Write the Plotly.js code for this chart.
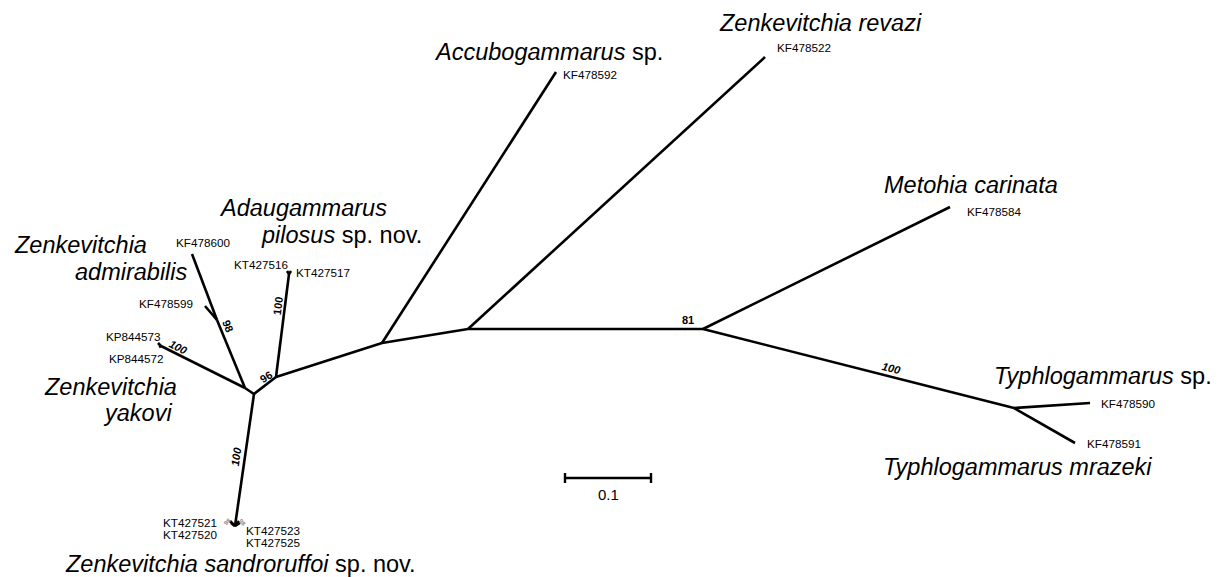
<!DOCTYPE html>
<html>
<head>
<meta charset="utf-8">
<script src="https://cdn.plot.ly/plotly-3.0.1.min.js"></script>
<style>html,body{margin:0;padding:0;background:#fff;}#chart{width:1223px;height:577px;}</style>
</head>
<body>
<div id="chart"></div>
<script>
// ---- Tree nodes (drawing units; 86 units = 0.1 substitutions/site) ----
const nodeNames = ['root','zk','adm','ada','acc','rev','met','typ','san','kp','kt',
  'KF478600','KF478599','KP844573','KP844572','KT427516','KT427517',
  'KT427521','KT427520','KT427523','KT427525',
  'KF478592','KF478522','KF478584','KF478590','KF478591'];
const nodeX = [254,245,217,276,382,468,703,1014,235,161,289,
  192,205,158,159,287,291,
  230,231,239,240,
  556,765,950,1090,1075];
const nodeY = [394,388,320,377,343,329,329,408,526,346,274,
  254,306,343,347,271,271,
  521,523,521,523,
  72,57,207,403,443];

// ---- Branches ----
const edgeFrom = ['root','zk','adm','adm','zk','kp','kp','root','ada','kt','kt',
  'root','san','san','san','san','ada','acc','acc','rev','rev','met','met','typ','typ'];
const edgeTo = ['zk','adm','KF478600','KF478599','kp','KP844573','KP844572','ada','kt','KT427516','KT427517',
  'san','KT427521','KT427520','KT427523','KT427525','acc','KF478592','rev','KF478522','met','KF478584','typ','KF478590','KF478591'];

// ---- Tip / taxon labels ----
const accText = ['KF478600','KF478599','KP844573','KP844572','KT427516','KT427517',
  'KT427521','KT427520','KT427523','KT427525','KF478592','KF478522','KF478584','KF478590','KF478591'];
const accX = [203,166,133,136,261,323,190,190,273,273,590,804,994,1128,1114];
const accY = [242,303,336,358,264,272,522,534,530,542,74,47,211,403,443];

const taxText = ['<i>Zenkevitchia</i>','<i>admirabilis</i>','<i>Zenkevitchia</i>','<i>yakovi</i>',
  '<i>Adaugammarus</i>','<i>pilosus</i> sp. nov.','<i>Accubogammarus</i> sp.','<i>Zenkevitchia revazi</i>',
  '<i>Metohia carinata</i>','<i>Typhlogammarus</i> sp.','<i>Typhlogammarus mrazeki</i>',
  '<i>Zenkevitchia sandroruffoi</i> sp. nov.'];
const taxX = [80,131,110,137,303,341,548,820,971,1103,1017,240];
const taxY = [245,272,387,413,208,235,52,23,185,376,467,564];

// ---- Bootstrap support values ----
const bsText = ['<i>100</i>','98','100','96','<i>100</i>','81','<i>100</i>','98','98'];
const bsX = [178,228,278,266,236,688,891,227,242];
const bsY = [347,326,306,377,457,320,368,522,522];
const bsAngle = [27,68,-83,-32,-82,0,14,-45,45];
const bsSize = [11,11,11,11,11,11,11,6,6];
const bsColor = ['#000','#000','#000','#000','#000','#000','#000','#888','#888'];

// ---- Scale bar ----
const scaleValue = 0.1;
const unitsPerScale = 86;
const scaleStart = [565, 478];

// Build branch trace
const idx = {};
nodeNames.forEach((n,i)=>idx[n]=i);
const lx = [], ly = [];
for (let i=0;i<edgeFrom.length;i++){
  const a = idx[edgeFrom[i]], b = idx[edgeTo[i]];
  lx.push(nodeX[a], nodeX[b], null);
  ly.push(nodeY[a], nodeY[b], null);
}
const treeTrace = {x:lx, y:ly, mode:'lines', type:'scatter', hoverinfo:'skip',
  line:{color:'#000', width:2.6}, showlegend:false};

const sx0 = scaleStart[0], sx1 = scaleStart[0] + unitsPerScale, sy = scaleStart[1];
const scaleTrace = {x:[sx0,sx1,null,sx0,sx0,null,sx1,sx1], y:[sy,sy,null,sy-5,sy+5,null,sy-5,sy+5],
  mode:'lines', type:'scatter', hoverinfo:'skip', line:{color:'#000', width:2.4}, showlegend:false};

const FONT = 'Liberation Sans, Arial, Helvetica, sans-serif';
const ann = [];
accText.forEach((t,i)=>ann.push({x:accX[i], y:accY[i], text:t, showarrow:false,
  xanchor:'center', yanchor:'middle', font:{family:FONT, size:11.7, color:'#000'}}));
taxText.forEach((t,i)=>ann.push({x:taxX[i], y:taxY[i], text:t, showarrow:false,
  xanchor:'center', yanchor:'middle', font:{family:FONT, size:23.5, color:'#000'}}));
bsText.forEach((t,i)=>ann.push({x:bsX[i], y:bsY[i], text:'<b>'+t+'</b>', showarrow:false,
  textangle:bsAngle[i], xanchor:'center', yanchor:'middle', font:{family:FONT, size:bsSize[i], color:bsColor[i]}}));
ann.push({x:(sx0+sx1)/2, y:sy+16, text:String(scaleValue), showarrow:false, xanchor:'center', yanchor:'middle',
  font:{family:FONT, size:15, color:'#000'}});

const layout = {
  width:1223, height:577, margin:{l:0,r:0,t:0,b:0},
  paper_bgcolor:'#fff', plot_bgcolor:'#fff',
  xaxis:{range:[0,1223], visible:false, fixedrange:true},
  yaxis:{range:[577,0], visible:false, fixedrange:true},
  annotations:ann, showlegend:false
};
Plotly.newPlot('chart', [treeTrace, scaleTrace], layout, {displayModeBar:false, staticPlot:true});
</script>
</body>
</html>
